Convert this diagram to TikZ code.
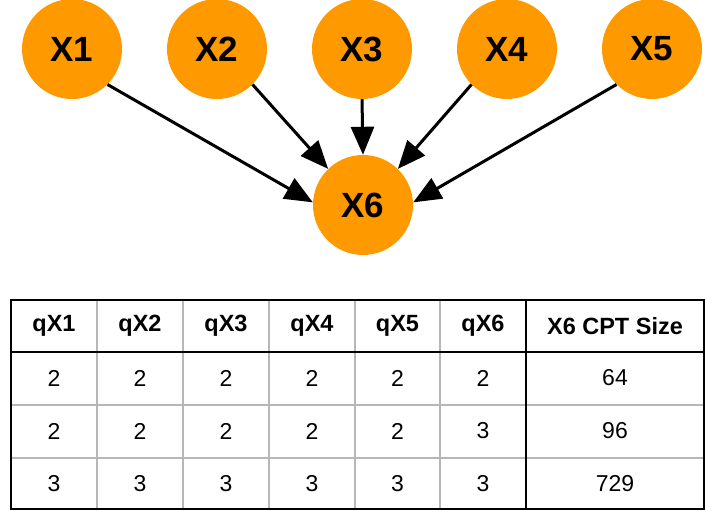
\documentclass[tikz,border=0pt]{standalone}
\usepackage{fontspec}
\setmainfont{Liberation Sans}
\usetikzlibrary{arrows.meta}
\definecolor{nodeorange}{HTML}{FF9900}
\definecolor{gridgray}{HTML}{B7B7B7}
\begin{document}
\begin{tikzpicture}[x=1pt,y=-1pt,
  var/.style={circle,fill=nodeorange,minimum size=100pt,inner sep=0pt,
    font=\fontsize{35}{38}\selectfont\bfseries},
  edge/.style={line width=3pt,-{Triangle[length=28pt,width=23pt]}},
  head/.style={font=\fontsize{23.5}{26}\selectfont\bfseries,anchor=center},
  cell/.style={font=\fontsize{23}{26}\selectfont,anchor=center},
  thin/.style={draw=gridgray,line width=1.2pt},
  thick/.style={draw=black,line width=1.5pt}]
\useasboundingbox (0,0) rectangle (705,511);
\node[var] (X1) at (72,49) {X1};
\node[var] (X2) at (217,49) {X2};
\node[var] (X3) at (362,49) {X3};
\node[var] (X4) at (507,49) {X4};
\node[var] (X5) at (652,49) {X5};
\node[var] (X6) at (363,205) {X6};
\draw[edge] (X1.-45) -- (X6.177);
\draw[edge] (X2.-45) -- (X6.134);
\draw[edge] (X3.south) -- (X6.north);
\draw[edge] (X4.-135) -- (X6.46);
\draw[edge] (X5.-135) -- (X6.3);
% table grid
\foreach \x in {97,183,269,355,440} \draw[thin] (\x,300) -- (\x,509);
\foreach \y in {405,458} \draw[thin] (11,\y) -- (704,\y);
\draw[thick] (11,352) -- (704,352);
\draw[thick] (526,300) -- (526,509);
\draw[thick] (11,300) rectangle (704,509);
% header
\foreach \t/\x [count=\i] in {qX1/54,qX2/140,qX3/226,qX4/312,qX5/397.5,qX6/483}
  \node[head] (h\i) at (\x,326) {\t};
\node[head] (h7) at (615,326) {X6 CPT Size};
% rows
\foreach \a/\b/\c/\d/\e/\f/\g [count=\r] in {2/2/2/2/2/2/64,2/2/2/2/2/3/96,3/3/3/3/3/3/729}{
  \pgfmathsetmacro{\yy}{378+53*(\r-1)}
  \node[cell] (r\r c1) at (54,\yy) {\a};
  \node[cell] (r\r c2) at (140,\yy) {\b};
  \node[cell] (r\r c3) at (226,\yy) {\c};
  \node[cell] (r\r c4) at (312,\yy) {\d};
  \node[cell] (r\r c5) at (397.5,\yy) {\e};
  \node[cell] (r\r c6) at (483,\yy) {\f};
  \node[cell] (r\r c7) at (615,\yy) {\g};
}
\end{tikzpicture}
\end{document}
